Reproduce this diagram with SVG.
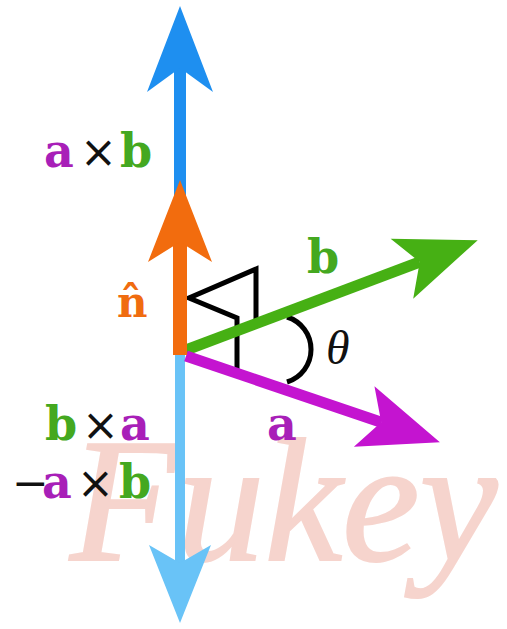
<svg xmlns="http://www.w3.org/2000/svg" width="507" height="629" viewBox="0 0 507 629">
<style>
.lbl{font-family:"DejaVu Serif","Liberation Serif",serif;font-weight:bold;font-size:46px}
.x{font-family:"DejaVu Sans","Liberation Sans",sans-serif;font-weight:normal;font-size:44px;fill:#111}
.ca{fill:#a81fb8}
.cb{fill:#44a820}
.cn{fill:#f06c10}
.mark{fill:none;stroke:#000;stroke-width:5;stroke-linejoin:miter}
.wm{font-family:"Liberation Serif",serif;font-style:italic;font-size:175px;fill:#f6d4cd;stroke:#f6d4cd;stroke-width:2}
</style>
<defs>
<marker id="hBlue" viewBox="-88 -34 90 68" markerWidth="90" markerHeight="68" refX="-62" refY="0" orient="auto" markerUnits="userSpaceOnUse"><path d="M0,0 L-86,-33 L-62,0 L-86,33 Z" fill="#1e8ff0"/></marker>
<marker id="hOrange" viewBox="-84 -34 86 68" markerWidth="86" markerHeight="68" refX="-62" refY="0" orient="auto" markerUnits="userSpaceOnUse"><path d="M0,0 L-82,-32 L-62,0 L-82,32 Z" fill="#f26c0e"/></marker>
<marker id="hLight" viewBox="-84 -34 86 68" markerWidth="86" markerHeight="68" refX="-60" refY="0" orient="auto" markerUnits="userSpaceOnUse"><path d="M0,0 L-78,-31 L-60,0 L-78,31 Z" fill="#69c3f7"/></marker>
<marker id="hGreen" viewBox="-84 -34 86 68" markerWidth="86" markerHeight="68" refX="-62" refY="0" orient="auto" markerUnits="userSpaceOnUse"><path d="M0,0 L-81,-32 L-62,0 L-81,32 Z" fill="#46b014"/></marker>
<marker id="hMag" viewBox="-84 -34 86 68" markerWidth="86" markerHeight="68" refX="-62" refY="0" orient="auto" markerUnits="userSpaceOnUse"><path d="M0,0 L-80,-32 L-62,0 L-80,32 Z" fill="#c414d0"/></marker>
</defs>
<rect width="507" height="629" fill="#fff"/>
<text class="wm" x="70" y="560">Fukey</text>
<g id="right-angles">
<polyline class="mark" points="256,323 256,269 189,298 237,318 237,370"/>
<path class="mark" d="M287,317 A34,34 0 0 1 287,382"/>
</g>
<g id="connectors">
<line x1="180" y1="240" x2="180" y2="68" stroke="#1e8ff0" stroke-width="12" marker-end="url(#hBlue)"/>
<line x1="180" y1="355" x2="180" y2="563" stroke="#69c3f7" stroke-width="10" marker-end="url(#hLight)"/>
<line x1="186" y1="350" x2="419.7" y2="262" stroke="#46b014" stroke-width="11" marker-end="url(#hGreen)"/>
<line x1="186" y1="356" x2="381.2" y2="422.3" stroke="#c414d0" stroke-width="11" marker-end="url(#hMag)"/>
<line x1="180" y1="355" x2="180" y2="242" stroke="#f26c0e" stroke-width="14" marker-end="url(#hOrange)"/>
</g>
<g id="label-axb"><text class="lbl" y="167"><tspan class="ca" x="44">a</tspan><tspan class="x" x="80">×</tspan><tspan class="cb" x="120">b</tspan></text></g>
<g id="label-n"><text class="lbl cn" x="117" y="317" style="font-size:42px">n̂</text></g>
<g id="label-b"><text class="lbl cb" x="307" y="273">b</text></g>
<g id="label-theta"><text x="326" y="364" style="font-family:'Liberation Serif',serif;font-style:italic;font-size:48px;fill:#111">θ</text></g>
<g id="label-a"><text class="lbl ca" x="267" y="440">a</text></g>
<g id="label-bxa"><text class="lbl" y="440"><tspan class="cb" x="45">b</tspan><tspan class="x" x="82">×</tspan><tspan class="ca" x="120">a</tspan></text></g>
<g id="label-neg-axb"><text class="lbl" y="498"><tspan class="x" x="12">−</tspan><tspan class="ca" x="42">a</tspan><tspan class="x" x="77">×</tspan><tspan class="cb" x="119">b</tspan></text></g>
</svg>
